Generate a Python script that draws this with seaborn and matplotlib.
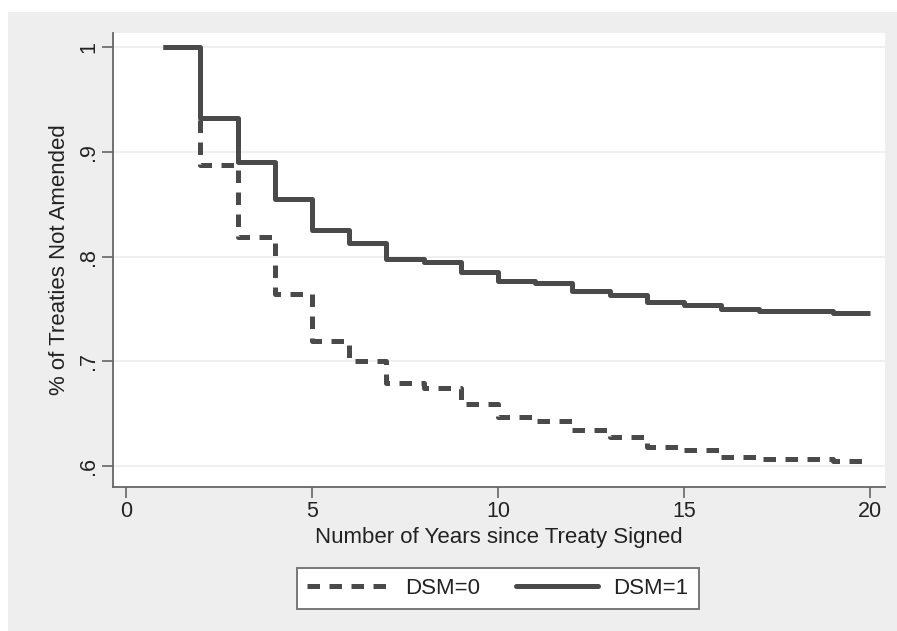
import matplotlib
matplotlib.use("Agg")
import matplotlib.pyplot as plt
import seaborn as sns
import pandas as pd
from matplotlib.patches import Rectangle
from matplotlib.lines import Line2D

# Data (step function values, held from each year to the next)
years = list(range(1, 21))
dsm0 = [1.000, 0.887, 0.819, 0.764, 0.719, 0.700, 0.679, 0.675, 0.659, 0.647,
        0.643, 0.634, 0.628, 0.618, 0.615, 0.609, 0.607, 0.607, 0.605, 0.605]
dsm1 = [1.000, 0.932, 0.890, 0.855, 0.825, 0.813, 0.798, 0.795, 0.785, 0.777,
        0.775, 0.767, 0.763, 0.757, 0.754, 0.750, 0.748, 0.748, 0.746, 0.746]
groups = ["DSM=0", "DSM=1"]
xticks = [0, 5, 10, 15, 20]
yticks = [0.6, 0.7, 0.8, 0.9, 1.0]
ytick_labels = [".6", ".7", ".8", ".9", "1"]

df = pd.DataFrame({
    "year": years + years,
    "surv": dsm0 + dsm1,
    "group": [groups[0]] * len(years) + [groups[1]] * len(years),
})

sns.set_style("white")
plt.rcParams["font.family"] = ["Liberation Sans", "DejaVu Sans"]

fig = plt.figure(figsize=(8.97, 6.31), dpi=100, facecolor="white")
fig.patches.append(Rectangle((8 / 897, 0), 1, 1 - 12 / 631, transform=fig.transFigure,
                             facecolor="#eeeeee", edgecolor="none", zorder=-10))
ax = fig.add_axes([113 / 897, 1 - 487 / 631, (885 - 113) / 897, (487 - 33) / 631])
ax.set_facecolor("white")

line_color = "#4a4a4a"
lw = 3.6
sns.lineplot(data=df, x="year", y="surv", hue="group", style="group",
             palette={groups[0]: line_color, groups[1]: line_color},
             dashes={groups[0]: (2.5, 1.9), groups[1]: ""},
             drawstyle="steps-post", linewidth=lw, legend=False, ax=ax,
             estimator=None, sort=True)
for ln in ax.lines:
    ln.set_solid_capstyle("butt")

ax.set_xlim(-0.35, 20.4)
ax.set_ylim(0.58, 1.0135)
ax.set_xticks(xticks)
ax.set_xticklabels([str(v) for v in xticks])
ax.set_yticks(yticks)
ax.set_yticklabels(ytick_labels, rotation=90, va="center")
ax.yaxis.grid(True, color="#ececec", linewidth=1.2)
ax.xaxis.grid(False)
ax.set_axisbelow(True)

for side in ["top", "right"]:
    ax.spines[side].set_visible(False)
for side in ["left", "bottom"]:
    ax.spines[side].set_color("#666666")
    ax.spines[side].set_linewidth(1.3)

ax.tick_params(axis="both", direction="out", length=8, width=1.2, color="#666666",
               labelsize=15.5, labelcolor="#222222", left=True, bottom=True)
ax.tick_params(axis="y", pad=2)
ax.tick_params(axis="x", pad=2)

ax.set_xlabel("Number of Years since Treaty Signed", fontsize=16, color="#222222", labelpad=4)
ax.set_ylabel("% of Treaties Not Amended", fontsize=16, color="#222222", labelpad=6)

handles = [
    Line2D([0], [0], color=line_color, linewidth=lw, dashes=(2.5, 1.9)),
    Line2D([0], [0], color=line_color, linewidth=lw),
]
leg = fig.legend(handles, groups, loc="center", bbox_to_anchor=(498 / 897, 1 - 588 / 631),
                 ncol=2, frameon=True, fancybox=False, framealpha=1, fontsize=16,
                 handlelength=3.7, columnspacing=1.6, handletextpad=0.7, borderpad=0.45)
leg.get_frame().set_edgecolor("#777777")
leg.get_frame().set_facecolor("white")
leg.get_frame().set_linewidth(1.4)
for t in leg.get_texts():
    t.set_color("#222222")

fig.savefig("out.png", dpi=100, facecolor="white")
